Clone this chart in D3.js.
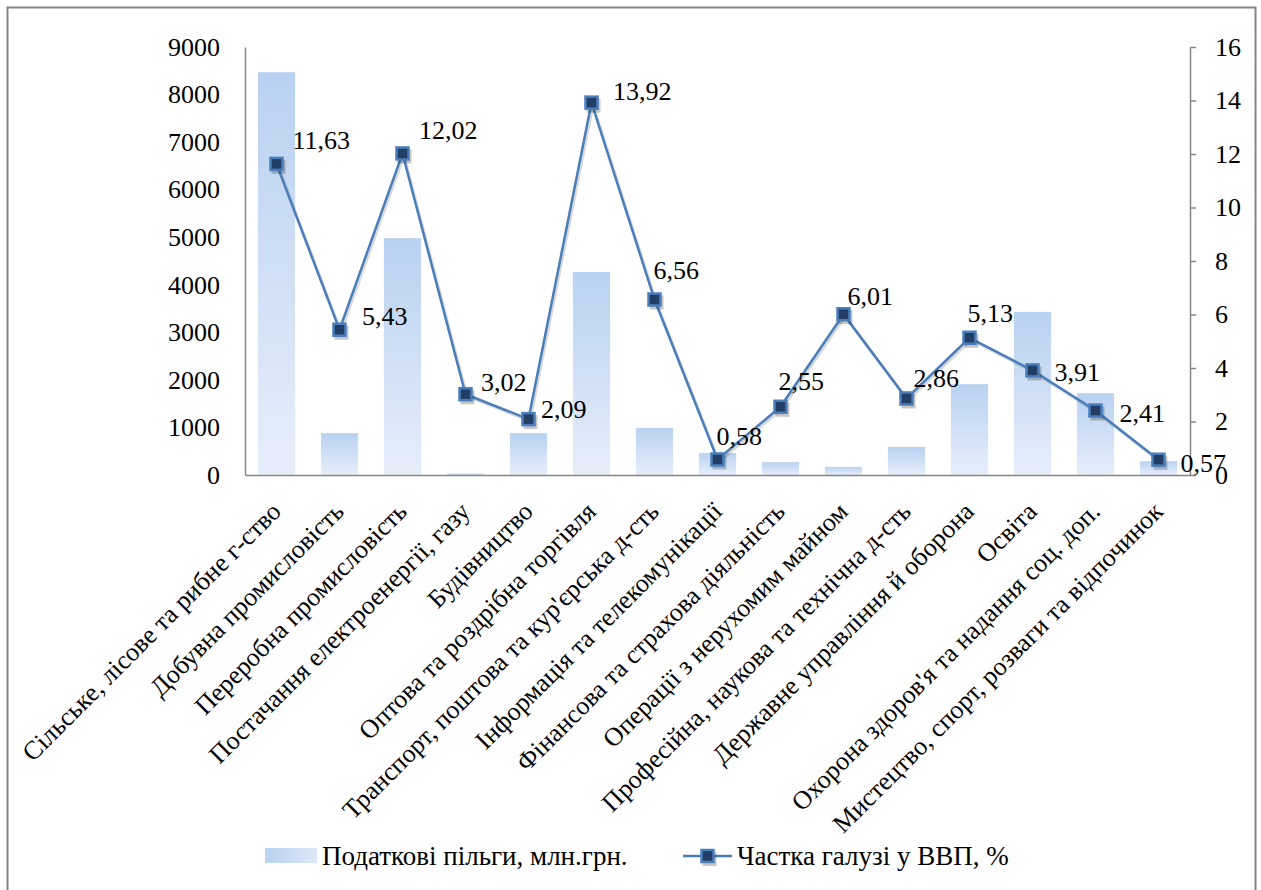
<!DOCTYPE html>
<html><head><meta charset="utf-8">
<script src="https://cdnjs.cloudflare.com/ajax/libs/d3/7.8.5/d3.min.js"></script>
<style>html,body{margin:0;padding:0;background:#fff;}</style>
</head>
<body><svg id="chart" width="1261" height="890"></svg>
<script>
const categories = [
  "Сільське, лісове та рибне г-ство",
  "Добувна промисловість",
  "Переробна промисловість",
  "Постачання електроенергії, газу",
  "Будівництво",
  "Оптова та роздрібна торгівля",
  "Транспорт, поштова та кур'єрська д-сть",
  "Інформація та телекомунікації",
  "Фінансова та страхова діяльність",
  "Операції з нерухомим майном",
  "Професійна, наукова та технічна д-сть",
  "Державне управління й оборона",
  "Освіта",
  "Охорона здоров'я та надання соц. доп.",
  "Мистецтво, спорт, розваги та відпочинок"
];
const taxBenefits = [8470, 880, 4980, 30, 880, 4270, 990, 460, 270, 170, 590, 1910, 3430, 1720, 290];
const gdpShare = [11.63, 5.43, 12.02, 3.02, 2.09, 13.92, 6.56, 0.58, 2.55, 6.01, 2.86, 5.13, 3.91, 2.41, 0.57];
const leftTicks = [0, 1000, 2000, 3000, 4000, 5000, 6000, 7000, 8000, 9000];
const rightTicks = [0, 2, 4, 6, 8, 10, 12, 14, 16];
const seriesNames = ["Податкові пільги, млн.грн.", "Частка галузі у ВВП, %"];
// data label offsets (layout only), relative to marker
const labelOffsets = [[16,-24],[22.5,-14],[16.5,-24],[15.5,-12],[12.5,-10],[21.5,-12],[-1,-30],[-1,-24],[-2,-26],[4,-18],[7,-21],[-2,-25],[22,1],[24,2],[22,3]];

const FONT = "'Liberation Serif', 'Times New Roman', monospace";
const svg = d3.select("#chart").attr("font-family", FONT);
const defs = svg.append("defs");
const gv = defs.append("linearGradient").attr("id","barGrad").attr("x1",0).attr("y1",0).attr("x2",0).attr("y2",1);
gv.append("stop").attr("offset","0%").attr("stop-color","#b9d1f1");
gv.append("stop").attr("offset","100%").attr("stop-color","#e7eefa");
const gh = defs.append("linearGradient").attr("id","legGrad").attr("x1",0).attr("y1",0).attr("x2",1).attr("y2",0);
gh.append("stop").attr("offset","0%").attr("stop-color","#b9d1f1");
gh.append("stop").attr("offset","100%").attr("stop-color","#dde8f7");

// frame
svg.append("rect").attr("x",7.5).attr("y",7.5).attr("width",1248).attr("height",900)
  .attr("fill","none").attr("stroke","#868686").attr("stroke-width",2);

const L = 245, R = 1190, T = 47, B = 475;
const x = d3.scaleBand().domain(categories).range([L, R]).paddingInner(0.41).paddingOuter(0.205);
const yL = d3.scaleLinear().domain([0, 9000]).range([B, T]);
const yR = d3.scaleLinear().domain([0, 16]).range([B, T]);
const cx = c => x(c) + x.bandwidth()/2;

svg.append("g").selectAll("rect").data(taxBenefits).join("rect")
  .attr("x",(d,i)=>x(categories[i])).attr("width",x.bandwidth())
  .attr("y",d=>yL(d)).attr("height",d=>B-yL(d)).attr("fill","url(#barGrad)");

const axL = svg.append("g").attr("transform",`translate(${L},0)`)
  .call(d3.axisLeft(yL).tickValues(leftTicks).tickSize(0).tickPadding(25).tickFormat(d3.format("d")));
axL.attr("font-family", FONT);
axL.select(".domain").attr("stroke","#868686").attr("stroke-width",1.5);
axL.selectAll("text").attr("font-size",26).attr("fill","#000");

const axR = svg.append("g").attr("transform",`translate(${R},0)`)
  .call(d3.axisRight(yR).tickValues(rightTicks).tickSize(6).tickSizeOuter(0).tickPadding(19).tickFormat(d3.format("d")));
axR.attr("font-family", FONT);
axR.select(".domain").attr("stroke","#868686").attr("stroke-width",1.5);
axR.selectAll("line").attr("stroke","#868686").attr("stroke-width",1.5);
axR.selectAll("text").attr("font-size",26).attr("fill","#000");

const axB = svg.append("g").attr("transform",`translate(0,${B})`)
  .call(d3.axisBottom(x).tickSize(0).tickFormat(""));
axB.select(".domain").attr("stroke","#868686").attr("stroke-width",1.5);

svg.append("g").selectAll("text").data(categories).join("text")
  .attr("transform",d=>`translate(${cx(d)+6},${B+38}) rotate(-45)`)
  .attr("text-anchor","end").attr("font-size",26).attr("fill","#000").text(d=>d);

const line = d3.line().x((d,i)=>cx(categories[i])).y(d=>yR(d));
svg.append("path").datum(gdpShare).attr("d",line).attr("fill","none")
  .attr("transform","translate(1.5,2)").attr("stroke","#000").attr("stroke-opacity",0.15).attr("stroke-width",3);
svg.append("path").datum(gdpShare).attr("d",line).attr("fill","none")
  .attr("stroke","#4a7ebb").attr("stroke-width",2.5);
svg.append("g").selectAll("rect").data(gdpShare).join("rect")
  .attr("x",(d,i)=>cx(categories[i])-5).attr("y",d=>yR(d)-4)
  .attr("width",14).attr("height",14).attr("fill","#000").attr("fill-opacity",0.22);
svg.append("g").selectAll("rect").data(gdpShare).join("rect")
  .attr("x",(d,i)=>cx(categories[i])-6).attr("y",d=>yR(d)-6)
  .attr("width",12).attr("height",12).attr("fill","#233e64")
  .attr("stroke","#4a7ebb").attr("stroke-width",2.5);

svg.append("g").selectAll("text").data(gdpShare).join("text")
  .attr("x",(d,i)=>cx(categories[i])+labelOffsets[i][0])
  .attr("y",(d,i)=>yR(d)+labelOffsets[i][1])
  .attr("dy","0.35em").attr("font-size",26).attr("fill","#000")
  .text(d=>d3.format(".2f")(d).replace(".",","));

const lg = svg.append("g");
lg.append("rect").attr("x",265).attr("y",848).attr("width",52).attr("height",15).attr("fill","url(#legGrad)");
lg.append("text").attr("x",322).attr("y",856).attr("dy","0.35em").attr("font-size",27).text(seriesNames[0]);
lg.append("line").attr("x1",683).attr("x2",732).attr("y1",856).attr("y2",856).attr("stroke","#4a7ebb").attr("stroke-width",2.5);
lg.append("rect").attr("x",702.5).attr("y",852).attr("width",14).attr("height",14).attr("fill","#000").attr("fill-opacity",0.22);
lg.append("rect").attr("x",701.5).attr("y",850).attr("width",12).attr("height",12).attr("fill","#233e64")
  .attr("stroke","#4a7ebb").attr("stroke-width",2.5);
lg.append("text").attr("x",737).attr("y",856).attr("dy","0.35em").attr("font-size",27).text(seriesNames[1]);
</script></body></html>
